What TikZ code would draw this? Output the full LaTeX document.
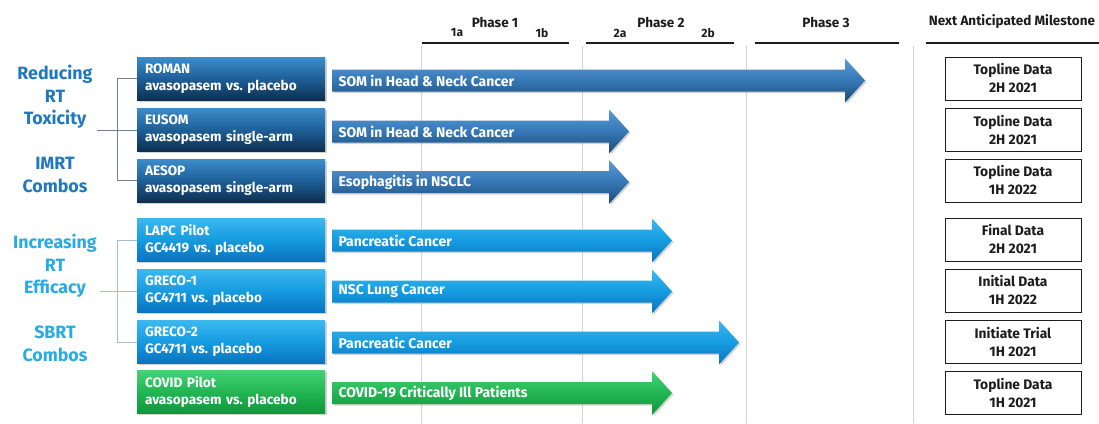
\documentclass[tikz,border=0pt]{standalone}
\usepackage{fontspec}
\setmainfont{Fira Sans}
\usetikzlibrary{shadows}
\definecolor{navyTop}{HTML}{3C8DCC}
\definecolor{navyMid}{HTML}{1E5F98}
\definecolor{navyBot}{HTML}{0E3050}
\definecolor{steelTop}{HTML}{5A9BD6}
\definecolor{steelMid}{HTML}{3577B5}
\definecolor{steelBot}{HTML}{1B4B78}
\definecolor{cyanTop}{HTML}{3BB8EF}
\definecolor{cyanMid}{HTML}{159BE0}
\definecolor{cyanBot}{HTML}{0A72BE}
\definecolor{greenTop}{HTML}{44D273}
\definecolor{greenMid}{HTML}{22B552}
\definecolor{greenBot}{HTML}{0F963B}
\definecolor{labDark}{HTML}{2078BE}
\definecolor{labLight}{HTML}{29AAE2}
\definecolor{gridgray}{HTML}{D4D4D4}
\definecolor{txt}{HTML}{1C1C1C}
\newcommand\progarrow[5]{%
  \path[#4] (332,#1-11) -- (#2-20,#1-11) -- (#2-20,#1-22) -- (#2,#1)
    -- (#2-20,#1+22) -- (#2-20,#1+11) -- (332,#1+11) -- cycle;
  \node[arrowtext] (#5) at (335,#1) {#3};}
\begin{document}
\frenchspacing
\begin{tikzpicture}[x=1pt,y=-1pt,
  hdr/.style={font=\bfseries\fontsize{13.5}{15}\selectfont, text=txt, inner sep=0pt},
  subhdr/.style={font=\bfseries\fontsize{12}{13}\selectfont, text=txt, inner sep=0pt},
  hline/.style={line width=2.6pt, txt},
  gridline/.style={line width=0.8pt, gridgray},
  progbox/.style={minimum width=188pt, minimum height=43pt, text width=172pt,
    inner xsep=8pt, inner ysep=0pt, align=left, text=white,
    font=\bfseries\fontsize{13.6}{17}\selectfont,
    drop shadow={opacity=0.35, shadow xshift=1.5pt, shadow yshift=-1.5pt}},
  navybox/.style={progbox, top color=navyTop, bottom color=navyBot, middle color=navyMid},
  cyanbox/.style={progbox, top color=cyanTop, bottom color=cyanBot, middle color=cyanMid},
  greenbox/.style={progbox, top color=greenTop, bottom color=greenBot, middle color=greenMid},
  arrowtext/.style={anchor=west, text=white, font=\bfseries\fontsize{14}{16}\selectfont},
  shadowarrow/.style={drop shadow={opacity=0.35, shadow xshift=1.5pt, shadow yshift=-1.5pt}},
  steelarrow/.style={shadowarrow, top color=steelTop, bottom color=steelBot, middle color=steelMid},
  cyanarrow/.style={shadowarrow, top color=cyanTop, bottom color=cyanBot, middle color=cyanMid},
  greenarrow/.style={shadowarrow, top color=greenTop, bottom color=greenBot, middle color=greenMid},
  milebox/.style={draw=txt, line width=0.8pt, fill=white, minimum width=136pt,
    minimum height=43pt, align=center, text=txt, inner sep=0pt,
    font=\bfseries\fontsize{13.8}{18}\selectfont},
  grouplabel/.style={align=center, font=\bfseries\fontsize{17.8}{22.5}\selectfont, inner sep=0pt},
  bracketdark/.style={line width=0.9pt, draw={rgb,255:red,112;green,128;blue,144}},
  bracketlight/.style={line width=0.9pt, draw={rgb,255:red,160;green,190;blue,216}}
]
\useasboundingbox[fill=white] (0,0) rectangle (1099,423);

% header
\node[hdr] (ph1) at (495,22) {Phase 1};
\node[subhdr] (ph1a) at (457,33) {1a};
\node[subhdr] (ph1b) at (542,33) {1b};
\node[hdr] (ph2) at (661,22) {Phase 2};
\node[subhdr] (ph2a) at (620,33) {2a};
\node[subhdr] (ph2b) at (708,33) {2b};
\node[hdr] (ph3) at (826,22) {Phase 3};
\node[hdr] (nam) at (1012,22) {Next Anticipated Milestone};
\draw[hline] (422,43) -- (569,43);
\draw[hline] (586,43) -- (734,43);
\draw[hline] (755,43) -- (899,43);
\draw[hline] (926,43) -- (1099,43);

% grid lines
\draw[gridline] (421,46) -- (421,423);
\draw[gridline] (582,46) -- (582,423);
\draw[gridline] (746,46) -- (746,423);
\draw[gridline] (913,46) -- (913,423);

% group labels
\node[grouplabel, text=labDark] (g1) at (55,97) {Reducing\\RT\\Toxicity};
\node[grouplabel, text=labDark] (g1b) at (55,175) {IMRT\\Combos};
\node[grouplabel, text=labLight] (g2) at (55,266) {Increasing\\RT\\Efficacy};
\node[grouplabel, text=labLight] (g2b) at (55,344) {SBRT\\Combos};

% program boxes
\node[navybox] (roman) at (231,78.5) {ROMAN\\avasopasem vs. placebo};
\node[navybox] (eusom) at (231,129.5) {EUSOM\\avasopasem single-arm};
\node[navybox] (aesop) at (231,180.5) {AESOP\\avasopasem single-arm};
\node[cyanbox] (lapc) at (231,240) {LAPC Pilot\\GC4419 vs. placebo};
\node[cyanbox] (greco1) at (231,291) {GRECO-1\\GC4711 vs. placebo};
\node[cyanbox] (greco2) at (231,342) {GRECO-2\\GC4711 vs. placebo};
\node[greenbox] (covid) at (231,392) {COVID Pilot\\avasopasem vs. placebo};

% brackets
\coordinate (b1) at (97,130.5);
\coordinate (b2) at (100,291);
\draw[bracketdark] (b1) -- (b1 -| eusom.west);
\draw[bracketdark] (roman.west) -- ++(-19,0) |- (aesop.west);
\draw[bracketlight] (b2) -- (greco1.west);
\draw[bracketlight] (lapc.west) -- ++(-19,0) |- (greco2.west);

% arrows
\progarrow{80.5}{865}{SOM in Head \& Neck Cancer}{steelarrow}{a1}
\progarrow{131.5}{629}{SOM in Head \& Neck Cancer}{steelarrow}{a2}
\progarrow{182}{629}{Esophagitis in NSCLC}{steelarrow}{a3}
\progarrow{240.5}{672}{Pancreatic Cancer}{cyanarrow}{a4}
\progarrow{291.5}{672}{NSC Lung Cancer}{cyanarrow}{a5}
\progarrow{342.5}{739}{Pancreatic Cancer}{cyanarrow}{a6}
\progarrow{393}{672}{COVID-19 Critically Ill Patients}{greenarrow}{a7}

% milestones
\node[milebox] (m1) at (1013,78.5) {Topline Data\\2H 2021};
\node[milebox] (m2) at (1013,130) {Topline Data\\2H 2021};
\node[milebox] (m3) at (1013,180.5) {Topline Data\\1H 2022};
\node[milebox] (m4) at (1013,239.5) {Final Data\\2H 2021};
\node[milebox] (m5) at (1013,290.5) {Initial Data\\1H 2022};
\node[milebox] (m6) at (1013,342) {Initiate Trial\\1H 2021};
\node[milebox] (m7) at (1013,393) {Topline Data\\1H 2021};
\end{tikzpicture}
\end{document}
